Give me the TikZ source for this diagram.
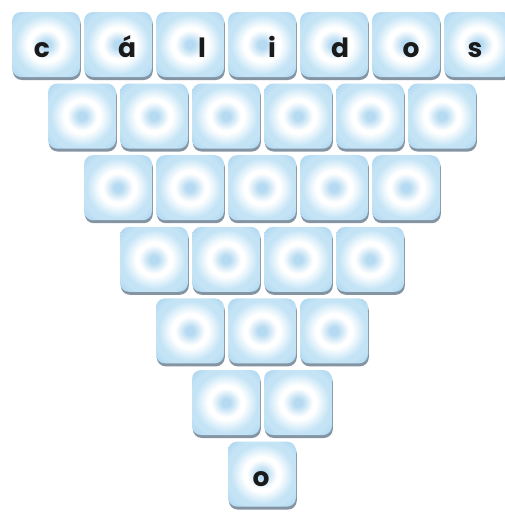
\documentclass[tikz,border=0pt]{standalone}
\usepackage{fontspec}
\setmainfont{Poppins}
\usetikzlibrary{shadows}
\definecolor{tcen}{HTML}{B5DAF1}
\definecolor{tedge}{HTML}{C4E4F6}
\definecolor{tcorner}{HTML}{A9D3EE}
\definecolor{shadowc}{HTML}{8494A3}
\definecolor{letterc}{HTML}{1A1A1A}
\pgfdeclareradialshading{tileshade}{\pgfpoint{0bp}{0bp}}{%
  color(0bp)=(tcen); color(3bp)=(tcen); color(11bp)=(white); color(13.5bp)=(white);
  color(23bp)=(tedge); color(27bp)=(tedge); color(36bp)=(tcorner); color(50bp)=(tcorner)}
\tikzset{
  tile/.style={rectangle, rounded corners=9pt, minimum width=68pt, minimum height=65pt,
    inner sep=0pt, shading=tileshade,
    general shadow={shadow xshift=0.8pt, shadow yshift=-3pt, fill=shadowc, opacity=1}},
  letter/.style={anchor=base, inner sep=0pt, font=\fontsize{26.5}{30}\selectfont\bfseries, text=letterc}
}
\begin{document}
\begin{tikzpicture}[x=1pt,y=1pt]
\useasboundingbox (0,0) rectangle (505,-512);
\foreach \k in {1,...,7}{
  \pgfmathtruncatemacro{\n}{8-\k}
  \foreach \i in {1,...,\n}{
    \pgfmathsetmacro{\xx}{262+(\i-(\n+1)/2)*72}
    \pgfmathsetmacro{\yy}{-(44.5+(\k-1)*71.6)}
    \node[tile] (t-\k-\i) at (\xx,\yy) {};
  }
}
\node[letter] (l1) at (42,-57) {c};
\node[letter] (l2) at (127,-57) {á};
\node[letter] (l3) at (202,-57) {l};
\node[letter] (l4) at (272,-57) {i};
\node[letter] (l5) at (340,-57) {d};
\node[letter] (l6) at (411,-57) {o};
\node[letter] (l7) at (475,-57) {s};
\node[letter] (l8) at (261,-486) {o};
\end{tikzpicture}
\end{document}
